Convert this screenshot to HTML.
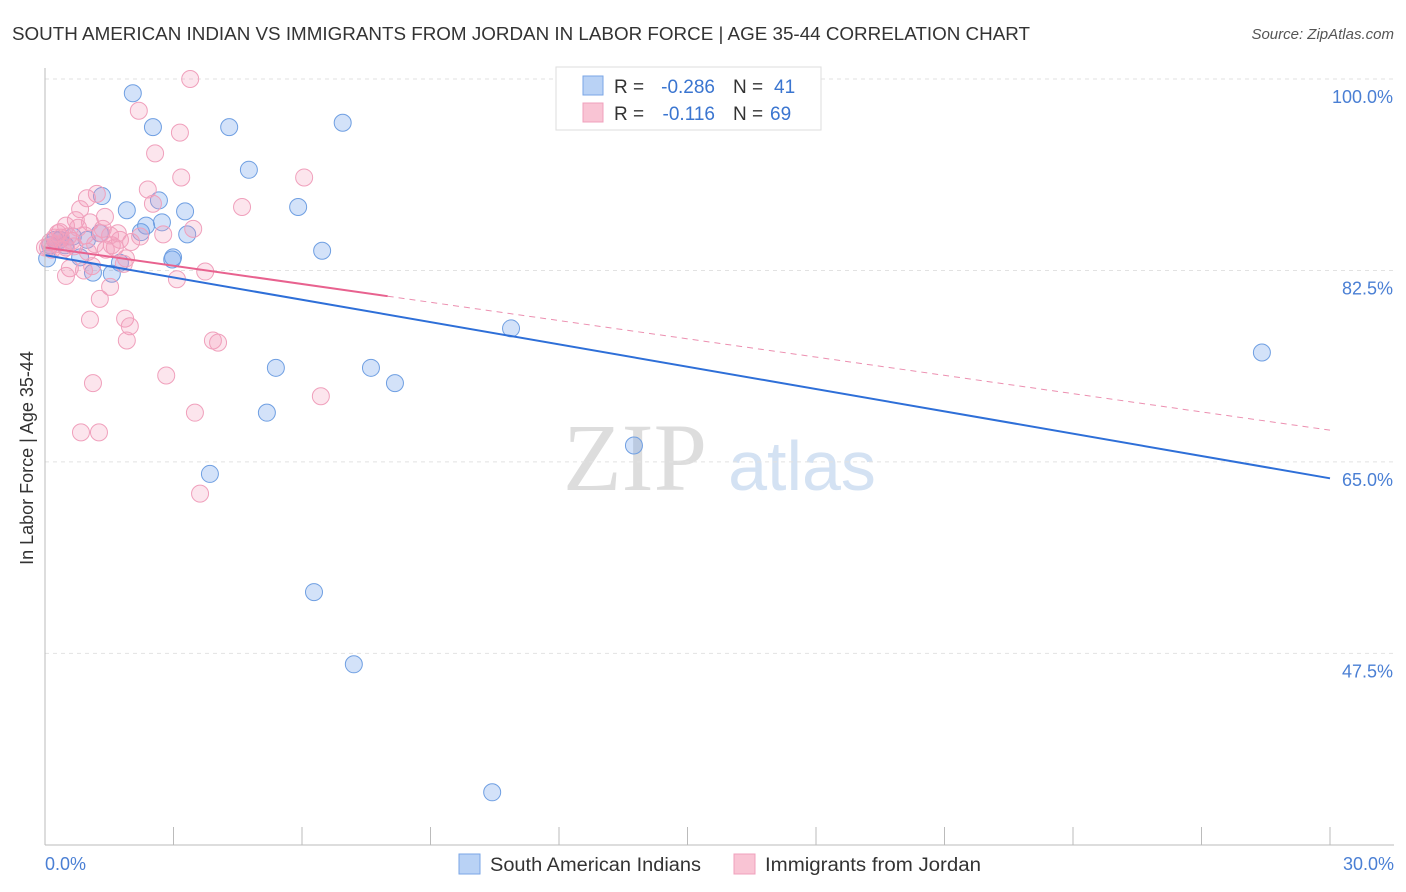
<!DOCTYPE html>
<html><head><meta charset="utf-8"><style>
body{margin:0;background:#fff;font-family:"Liberation Sans",sans-serif}
#wrap{position:relative;width:1406px;height:892px;overflow:hidden}
</style></head><body><div id="wrap">
<svg id="svg" width="1406" height="892" xmlns="http://www.w3.org/2000/svg">
<text x="12" y="40" font-size="18.8" textLength="1018" lengthAdjust="spacingAndGlyphs" fill="#333">SOUTH AMERICAN INDIAN VS IMMIGRANTS FROM JORDAN IN LABOR FORCE | AGE 35-44 CORRELATION CHART</text>
<text x="1394" y="39" font-size="15" fill="#555" font-style="italic" text-anchor="end">Source: ZipAtlas.com</text>
<text x="33" y="458" font-size="18" fill="#333" text-anchor="middle" transform="rotate(-90 33 458)">In Labor Force | Age 35-44</text>
<g><text x="635" y="490" font-size="96" fill="#ddd" font-family="Liberation Serif,serif" text-anchor="middle">ZIP</text><text x="802" y="490" font-size="70" fill="#d4e2f3" text-anchor="middle">atlas</text></g>
<g id="grid"></g><g id="pts"></g><g id="trend"></g>
<line x1="45" y1="68" x2="45" y2="845" stroke="#bbb"/>
<line x1="45" y1="845" x2="1394" y2="845" stroke="#bbb"/>
<text x="45" y="870" font-size="18" fill="#4a7fd4">0.0%</text>
<text x="1394" y="870" font-size="18" fill="#4a7fd4" text-anchor="end">30.0%</text>
<g font-size="19">
<rect x="556" y="67" width="265" height="63" fill="#fff" stroke="#ddd"/>
<rect x="583" y="76" width="20" height="19" fill="#b9d2f5" stroke="#7aa6e6"/>
<rect x="583" y="103" width="20" height="19" fill="#f9c4d4" stroke="#f0a0bc"/>
<text x="614" y="93" fill="#333">R =</text><text x="715" y="93" fill="#3a75d0" text-anchor="end">-0.286</text>
<text x="733" y="93" fill="#333">N =</text><text x="774" y="93" fill="#3a75d0">41</text>
<text x="614" y="120" fill="#333">R =</text><text x="715" y="120" fill="#3a75d0" text-anchor="end">-0.116</text>
<text x="733" y="120" fill="#333">N =</text><text x="770" y="120" fill="#3a75d0">69</text>
</g>
<g>
<rect x="459" y="854" width="21" height="20" fill="#b9d2f5" stroke="#7aa6e6"/>
<text x="490" y="871" font-size="19" textLength="211" lengthAdjust="spacingAndGlyphs" fill="#333">South American Indians</text>
<rect x="734" y="854" width="21" height="20" fill="#f9c4d4" stroke="#f0a0bc"/>
<text x="765" y="871" font-size="19" textLength="216" lengthAdjust="spacingAndGlyphs" fill="#333">Immigrants from Jordan</text>
</g>
</svg></div>
<script>
const yTicks=[100,82.5,65,47.5];
const yTickLabels=["100.0%","82.5%","65.0%","47.5%"];
const xTicks=[0,3,6,9,12,15,18,21,24,27,30];
const blueX=[2.05,2.52,4.30,6.95,4.76,1.33,1.91,2.66,3.27,5.91,2.73,2.36,2.24,3.32,0.98,0.65,0.35,0.12,0.05,0.82,1.12,1.56,1.75,2.99,2.97,6.47,10.88,28.41,5.39,7.61,8.17,5.18,13.75,3.85,6.28,7.21,10.44,17.28,0.23,0.47,1.28];
const blueY=[98.7,95.6,95.6,96.0,91.7,89.3,88.0,88.9,87.9,88.3,86.9,86.6,86.0,85.8,85.3,85.6,85.3,84.8,83.6,83.7,82.3,82.2,83.2,83.7,83.5,84.3,77.2,75.0,73.6,73.6,72.2,69.5,66.5,63.9,53.1,46.5,34.8,99.7,85.3,84.8,85.9];
const pinkX=[3.39,2.19,3.15,2.57,3.18,6.05,2.40,1.21,0.98,2.52,4.60,0.82,1.40,0.72,1.05,3.46,2.76,1.31,1.75,2.01,1.56,0.35,0.23,0.12,0.07,0.49,0.68,1.00,1.63,1.89,1.42,1.10,1.84,0.58,0.91,3.74,3.08,1.52,0.49,1.28,1.05,1.87,1.98,1.91,3.92,4.04,2.83,1.12,6.44,3.50,0.84,1.26,3.62,0.37,0.26,0.54,0.63,0.42,0.30,0.93,1.17,1.52,2.22,0.16,0.49,0.77,1.35,1.70,0.0];
const pinkY=[100,97.1,95.1,93.2,91.0,91.0,89.9,89.5,89.1,88.6,88.3,88.1,87.4,87.1,86.9,86.3,85.8,85.9,85.3,85.1,84.8,86.0,85.5,85.1,84.6,84.6,84.7,84.2,84.6,83.6,84.4,82.9,83.1,82.7,82.5,82.4,81.7,81.0,82.0,79.9,78.0,78.1,77.4,76.1,76.1,75.9,72.9,72.2,71.0,69.5,67.7,67.7,62.1,85.5,84.9,85.6,85.2,84.4,85.9,85.7,84.9,85.7,85.6,84.4,86.6,86.4,86.3,85.9,84.6];
const blueTrend=[83.9,63.5];
const pinkTrend=[84.6,67.9];
const pinkSolidEnd=8.0;
const NS="http://www.w3.org/2000/svg";
const xs=v=>45+v/30*1285;
const ys=v=>79+(100-v)*10.94;
function mk(tag,attrs,parent){const e=document.createElementNS(NS,tag);for(const k in attrs)e.setAttribute(k,attrs[k]);document.getElementById(parent).appendChild(e);return e;}
yTicks.forEach((t,i)=>{
 const l=mk('line',{x1:45,x2:1394,y1:ys(t),y2:ys(t),stroke:'#e2e2e2','stroke-dasharray':'4,4'},'grid');
 
 
 const tx=mk('text',{x:1393,y:ys(t)+24,'font-size':18,fill:'#4a7fd4','text-anchor':'end'},'grid');
 tx.textContent=yTickLabels[i];
 
 
});
xTicks.forEach(t=>{
 const l=mk('line',{x1:xs(t),x2:xs(t),y1:827,y2:845,stroke:'#bbb'},'grid');
 
 
});
blueX.forEach((x,i)=>{
 const c=mk('circle',{cx:xs(x),cy:ys(blueY[i]),r:8.5,fill:'rgba(110,160,235,0.3)',stroke:'#6f9fe2','stroke-width':1},'pts');
 
 
});
pinkX.forEach((x,i)=>{
 const c=mk('circle',{cx:xs(x),cy:ys(pinkY[i]),r:8.5,fill:'rgba(245,150,185,0.25)',stroke:'#f0a0bc','stroke-width':1},'pts');
 
 
});
const pAt=x=>pinkTrend[0]+(pinkTrend[1]-pinkTrend[0])*x/30;
const bl=mk('line',{x1:xs(0),y1:ys(blueTrend[0]),x2:xs(30),y2:ys(blueTrend[1]),stroke:'#2e6fd8','stroke-width':2},'trend');


const pd=mk('line',{x1:xs(pinkSolidEnd),y1:ys(pAt(pinkSolidEnd)),x2:xs(30),y2:ys(pinkTrend[1]),stroke:'#ec8fb0','stroke-width':1,'stroke-dasharray':'6,5'},'trend');


const ps=mk('line',{x1:xs(0),y1:ys(pinkTrend[0]),x2:xs(pinkSolidEnd),y2:ys(pAt(pinkSolidEnd)),stroke:'#e8628f','stroke-width':2},'trend');


</script></body></html>
